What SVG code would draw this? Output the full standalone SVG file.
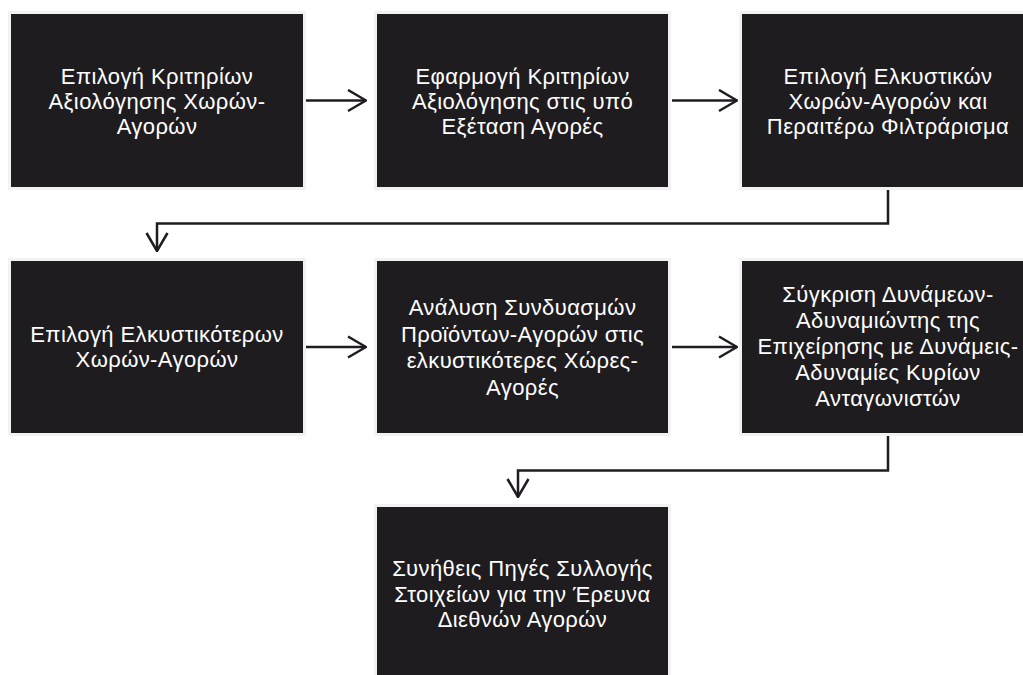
<svg xmlns="http://www.w3.org/2000/svg" width="1023" height="675" viewBox="0 0 1023 675">
<defs>
<style>
.box{fill:#1e1c1f;stroke:#f2f2f2;stroke-width:3}
.t{fill:#ffffff;font-family:"Liberation Sans","Noto Sans",sans-serif;font-size:22px;letter-spacing:0.4px;text-anchor:middle}
.c{fill:none;stroke:#1e1c1f;stroke-width:2.5}
</style>
<marker id="ah" viewBox="0 0 20 24" refX="19" refY="12" markerWidth="20" markerHeight="24" markerUnits="userSpaceOnUse" orient="auto">
<path d="M1,1.5 L19,12 L1,22.5" fill="none" stroke="#1e1c1f" stroke-width="2.5"/>
</marker>
</defs>
<rect width="1023" height="675" fill="#ffffff"/>
<g id="n1"><rect class="box" x="9.5" y="12.5" width="295" height="176"/>
<text class="t"><tspan x="157" y="84">Επιλογή Κριτηρίων</tspan><tspan x="157" y="109">Αξιολόγησης Χωρών-</tspan><tspan x="157" y="134">Αγορών</tspan></text></g>
<g id="n2"><rect class="box" x="375.5" y="12.5" width="294" height="176"/>
<text class="t"><tspan x="522.5" y="84">Εφαρμογή Κριτηρίων</tspan><tspan x="522.5" y="109">Αξιολόγησης στις υπό</tspan><tspan x="522.5" y="134">Εξέταση Αγορές</tspan></text></g>
<g id="n3"><rect class="box" x="740.5" y="12.5" width="295" height="176"/>
<text class="t"><tspan x="888" y="84">Επιλογή Ελκυστικών</tspan><tspan x="888" y="109">Χωρών-Αγορών και</tspan><tspan x="888" y="134">Περαιτέρω Φιλτράρισμα</tspan></text></g>
<g id="n4"><rect class="box" x="9.5" y="259.5" width="295" height="175"/>
<text class="t"><tspan x="157" y="342">Επιλογή Ελκυστικότερων</tspan><tspan x="157" y="367">Χωρών-Αγορών</tspan></text></g>
<g id="n5"><rect class="box" x="375.5" y="259.5" width="294" height="175"/>
<text class="t"><tspan x="522.5" y="315">Ανάλυση Συνδυασμών</tspan><tspan x="522.5" y="341.5">Προϊόντων-Αγορών στις</tspan><tspan x="522.5" y="368">ελκυστικότερες Χώρες-</tspan><tspan x="522.5" y="394.5">Αγορές</tspan></text></g>
<g id="n6"><rect class="box" x="740.5" y="259.5" width="295" height="175"/>
<text class="t"><tspan x="888" y="302">Σύγκριση Δυνάμεων-</tspan><tspan x="888" y="328">Αδυναμιώντης της</tspan><tspan x="888" y="354">Επιχείρησης με Δυνάμεις-</tspan><tspan x="888" y="380">Αδυναμίες Κυρίων</tspan><tspan x="888" y="406">Ανταγωνιστών</tspan></text></g>
<g id="n7"><rect class="box" x="375.5" y="505.5" width="294" height="176"/>
<text class="t"><tspan x="522.5" y="576">Συνήθεις Πηγές Συλλογής</tspan><tspan x="522.5" y="602">Στοιχείων για την Έρευνα</tspan><tspan x="522.5" y="627">Διεθνών Αγορών</tspan></text></g>
<g id="connectors">
<path class="c" d="M306,100.5 H366" marker-end="url(#ah)"/>
<path class="c" d="M672,100.5 H737" marker-end="url(#ah)"/>
<path class="c" d="M888,190 V223.5 H157 V251" marker-end="url(#ah)"/>
<path class="c" d="M306,347 H366" marker-end="url(#ah)"/>
<path class="c" d="M672,347 H737" marker-end="url(#ah)"/>
<path class="c" d="M888,436 V470.5 H518 V497" marker-end="url(#ah)"/>
</g>
</svg>
